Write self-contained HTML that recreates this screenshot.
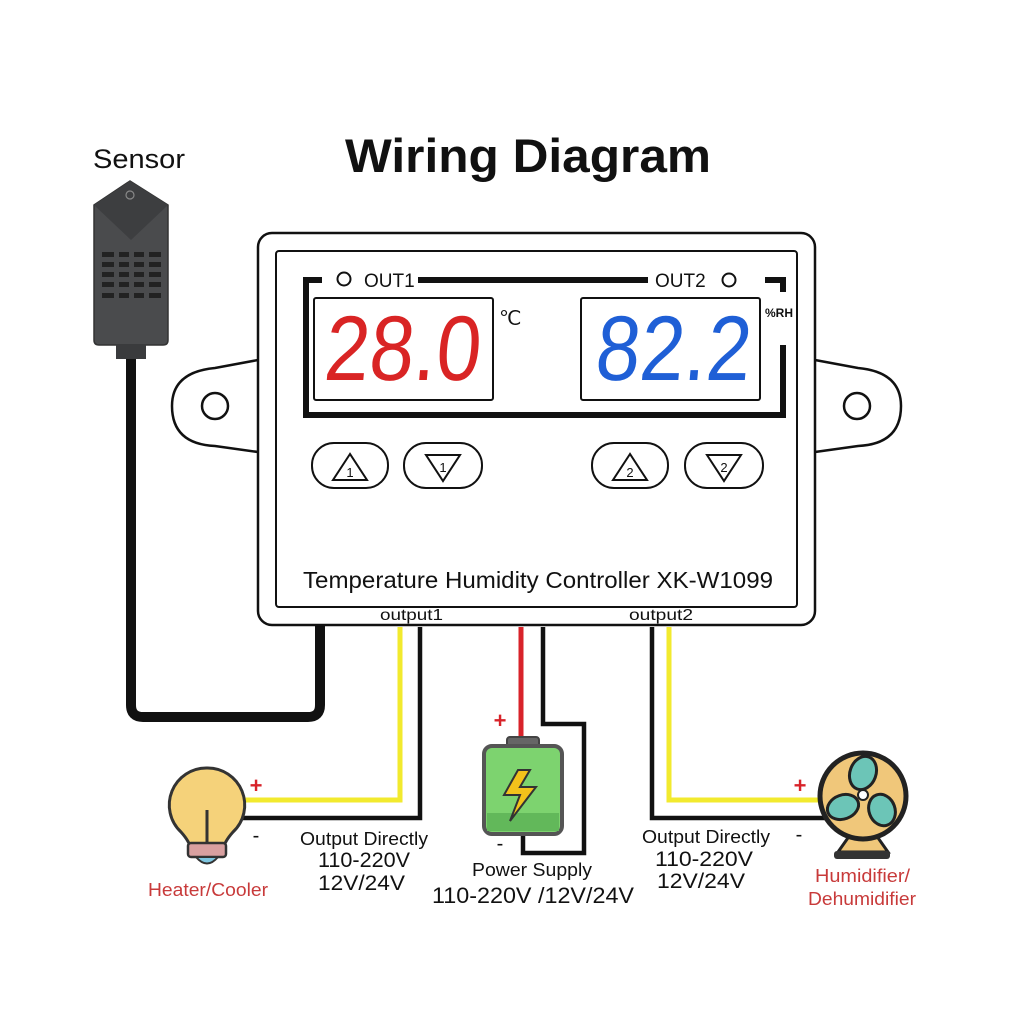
<!DOCTYPE html>
<html><head><meta charset="utf-8"><style>
html,body{margin:0;padding:0;background:#fff}
svg{display:block}
text{font-family:"Liberation Sans",sans-serif}
</style></head><body>
<svg width="1024" height="1024" viewBox="0 0 1024 1024" xmlns="http://www.w3.org/2000/svg">
<rect width="1024" height="1024" fill="#fff"/>
<text x="528" y="172" font-size="47" font-weight="bold" text-anchor="middle" fill="#111" textLength="366" lengthAdjust="spacingAndGlyphs">Wiring Diagram</text>
<text x="93" y="168" font-size="27" fill="#111" textLength="92" lengthAdjust="spacingAndGlyphs">Sensor</text>

<!-- sensor cable -->
<path d="M131 355 V705 Q131 717 143 717 H308 Q320 717 320 705 V625" fill="none" stroke="#111" stroke-width="10"/>
<!-- sensor -->
<path d="M94 205 L130 181 L168 205 V340 Q168 345 163 345 H99 Q94 345 94 340 Z" fill="#4a4b4d" stroke="#333" stroke-width="1.5"/>
<path d="M94 205 L130 181 L168 205 L131 240 Z" fill="#3d3e40"/>
<circle cx="130" cy="195" r="4" fill="none" stroke="#888" stroke-width="1.2"/>
<g fill="#222">
<rect x="102" y="252" width="12" height="5"/><rect x="119" y="252" width="10" height="5"/><rect x="134" y="252" width="10" height="5"/><rect x="149" y="252" width="12" height="5"/>
<rect x="102" y="262" width="12" height="5"/><rect x="119" y="262" width="10" height="5"/><rect x="134" y="262" width="10" height="5"/><rect x="149" y="262" width="12" height="5"/>
<rect x="102" y="272" width="12" height="5"/><rect x="119" y="272" width="10" height="5"/><rect x="134" y="272" width="10" height="5"/><rect x="149" y="272" width="12" height="5"/>
<rect x="102" y="282" width="12" height="5"/><rect x="119" y="282" width="10" height="5"/><rect x="134" y="282" width="10" height="5"/><rect x="149" y="282" width="12" height="5"/>
<rect x="102" y="293" width="12" height="5"/><rect x="119" y="293" width="10" height="5"/><rect x="134" y="293" width="10" height="5"/><rect x="149" y="293" width="12" height="5"/>
</g>
<rect x="116" y="344" width="30" height="15" fill="#3a3b3d"/>

<!-- ears -->
<path d="M258 360 L215 368 Q172 372 172 406 Q172 444 215 446 L258 452" fill="#fff" stroke="#111" stroke-width="2.5"/>
<circle cx="215" cy="406" r="13" fill="none" stroke="#111" stroke-width="2.5"/>
<path d="M815 360 L858 368 Q901 372 901 406 Q901 444 858 446 L815 452" fill="#fff" stroke="#111" stroke-width="2.5"/>
<circle cx="857" cy="406" r="13" fill="none" stroke="#111" stroke-width="2.5"/>

<!-- controller -->
<rect x="258" y="233" width="557" height="392" rx="14" fill="#fff" stroke="#111" stroke-width="2.5"/>
<rect x="276" y="251" width="521" height="356" rx="3" fill="#fff" stroke="#111" stroke-width="2"/>
<g fill="none" stroke="#111" stroke-width="6">
<path d="M322 280 H306 V415 H783 V345"/>
<path d="M418 280 H648"/>
<path d="M765 280 H783 V292"/>
</g>
<circle cx="344" cy="279" r="6.5" fill="none" stroke="#111" stroke-width="2"/>
<text x="364" y="287" font-size="19" fill="#111">OUT1</text>
<text x="655" y="287" font-size="19" fill="#111">OUT2</text>
<circle cx="729" cy="280" r="6.5" fill="none" stroke="#111" stroke-width="2"/>

<rect x="314" y="298" width="179" height="102" rx="2" fill="#fff" stroke="#111" stroke-width="2"/>
<rect x="581" y="298" width="179" height="102" rx="2" fill="#fff" stroke="#111" stroke-width="2"/>
<text x="322" y="380" font-size="92" textLength="156" lengthAdjust="spacingAndGlyphs" fill="#d92424" transform="skewX(-5) translate(34,0)">28.0</text>
<text x="593" y="380" font-size="92" textLength="155" lengthAdjust="spacingAndGlyphs" fill="#1f5fd6" transform="skewX(-5) translate(34,0)">82.2</text>
<text x="499" y="325" font-size="20" fill="#111">℃</text>
<text x="765" y="317" font-size="12" font-weight="bold" fill="#111">%RH</text>

<!-- buttons -->
<g fill="none" stroke="#111" stroke-width="2">
<rect x="312" y="443" width="76" height="45" rx="22"/>
<rect x="404" y="443" width="78" height="45" rx="22"/>
<rect x="592" y="443" width="76" height="45" rx="22"/>
<rect x="685" y="443" width="78" height="45" rx="22"/>
<path d="M350 454 L333 480 H367 Z"/>
<path d="M426 455 H460 L443 481 Z"/>
<path d="M630 454 L613 480 H647 Z"/>
<path d="M707 455 H741 L724 481 Z"/>
</g>
<g font-size="13" fill="#111" text-anchor="middle">
<text x="350" y="477">1</text><text x="443" y="472">1</text>
<text x="630" y="477">2</text><text x="724" y="472">2</text>
</g>
<text x="303" y="588" font-size="23" fill="#111" textLength="470" lengthAdjust="spacingAndGlyphs">Temperature Humidity Controller XK-W1099</text>
<text x="380" y="620" font-size="16" fill="#111" textLength="63" lengthAdjust="spacingAndGlyphs">output1</text>
<text x="629" y="620" font-size="16" fill="#111" textLength="64" lengthAdjust="spacingAndGlyphs">output2</text>

<!-- wires -->
<path d="M400 627 V800 H243" fill="none" stroke="#f2ea2e" stroke-width="5"/>
<path d="M420 627 V818 H240" fill="none" stroke="#111" stroke-width="4.5"/>
<path d="M521 627 V739" fill="none" stroke="#d8232a" stroke-width="5"/>
<path d="M543 627 V724 H584 V853 H523 V833" fill="none" stroke="#111" stroke-width="4.5"/>
<path d="M652 627 V818 H826" fill="none" stroke="#111" stroke-width="4.5"/>
<path d="M669 627 V800 H822" fill="none" stroke="#f2ea2e" stroke-width="5"/>

<!-- bulb -->
<path d="M207 768 A37 37 0 0 1 233 832 Q224 842 223 850 H191 Q190 842 181 832 A37 37 0 0 1 207 768 Z" fill="#f5d27a" stroke="#333" stroke-width="3"/>
<line x1="207" y1="810" x2="207" y2="843" stroke="#333" stroke-width="3"/>
<rect x="188" y="843" width="38" height="14" rx="3" fill="#d9a0a0" stroke="#333" stroke-width="2.5"/>
<path d="M196 857 Q207 870 218 857 Z" fill="#7ec6e0" stroke="#333" stroke-width="2"/>
<text x="256" y="793" font-size="22" fill="#d8232a" font-weight="bold" text-anchor="middle">+</text>
<text x="256" y="842" font-size="20" fill="#111" text-anchor="middle">-</text>
<text x="148" y="896" font-size="18" fill="#c83a3a" textLength="120" lengthAdjust="spacingAndGlyphs">Heater/Cooler</text>

<!-- battery -->
<rect x="507" y="737" width="32" height="11" rx="3" fill="#666" stroke="#444" stroke-width="2"/>
<rect x="484" y="746" width="78" height="88" rx="8" fill="#7dd36f" stroke="#555" stroke-width="4"/>
<rect x="487" y="813" width="72" height="18" fill="#62b85a"/>
<path d="M518 770 L504 795 L520 795 L510 821 L536 787 L520 787 L530 770 Z" fill="#f3c21b" stroke="#333" stroke-width="2"/>
<text x="500" y="728" font-size="22" fill="#d8232a" font-weight="bold" text-anchor="middle">+</text>
<text x="500" y="850" font-size="20" fill="#111" text-anchor="middle">-</text>
<text x="472" y="876" font-size="18" fill="#111" textLength="120" lengthAdjust="spacingAndGlyphs">Power Supply</text>
<text x="432" y="903" font-size="22" fill="#111" textLength="202" lengthAdjust="spacingAndGlyphs">110-220V /12V/24V</text>

<text x="300" y="845" font-size="18" fill="#111" textLength="128" lengthAdjust="spacingAndGlyphs">Output Directly</text>
<text x="318" y="867" font-size="21" fill="#111" textLength="92" lengthAdjust="spacingAndGlyphs">110-220V</text>
<text x="318" y="890" font-size="21" fill="#111" textLength="87" lengthAdjust="spacingAndGlyphs">12V/24V</text>

<text x="642" y="843" font-size="18" fill="#111" textLength="128" lengthAdjust="spacingAndGlyphs">Output Directly</text>
<text x="655" y="866" font-size="21" fill="#111" textLength="98" lengthAdjust="spacingAndGlyphs">110-220V</text>
<text x="657" y="888" font-size="21" fill="#111" textLength="88" lengthAdjust="spacingAndGlyphs">12V/24V</text>

<!-- fan -->
<path d="M850 835 L838 852 H888 L876 835 Z" fill="#f0c77a" stroke="#222" stroke-width="3"/>
<rect x="834" y="851" width="56" height="8" rx="3" fill="#333"/>
<circle cx="863" cy="796" r="43" fill="#f0c77a" stroke="#222" stroke-width="5"/>
<g fill="#6cc5b7" stroke="#222" stroke-width="3">
<ellipse cx="863" cy="773" rx="13" ry="17" transform="rotate(20 863 773)"/>
<ellipse cx="843" cy="807" rx="16" ry="12" transform="rotate(-20 843 807)"/>
<ellipse cx="882" cy="810" rx="13" ry="16" transform="rotate(-20 882 810)"/>
</g>
<circle cx="863" cy="795" r="5" fill="#fff" stroke="#222" stroke-width="2"/>
<text x="800" y="793" font-size="22" fill="#d8232a" font-weight="bold" text-anchor="middle">+</text>
<text x="799" y="841" font-size="20" fill="#111" text-anchor="middle">-</text>
<text x="815" y="882" font-size="18" fill="#c83a3a" textLength="95" lengthAdjust="spacingAndGlyphs">Humidifier/</text>
<text x="808" y="905" font-size="18" fill="#c83a3a" textLength="108" lengthAdjust="spacingAndGlyphs">Dehumidifier</text>
</svg>
</body></html>
